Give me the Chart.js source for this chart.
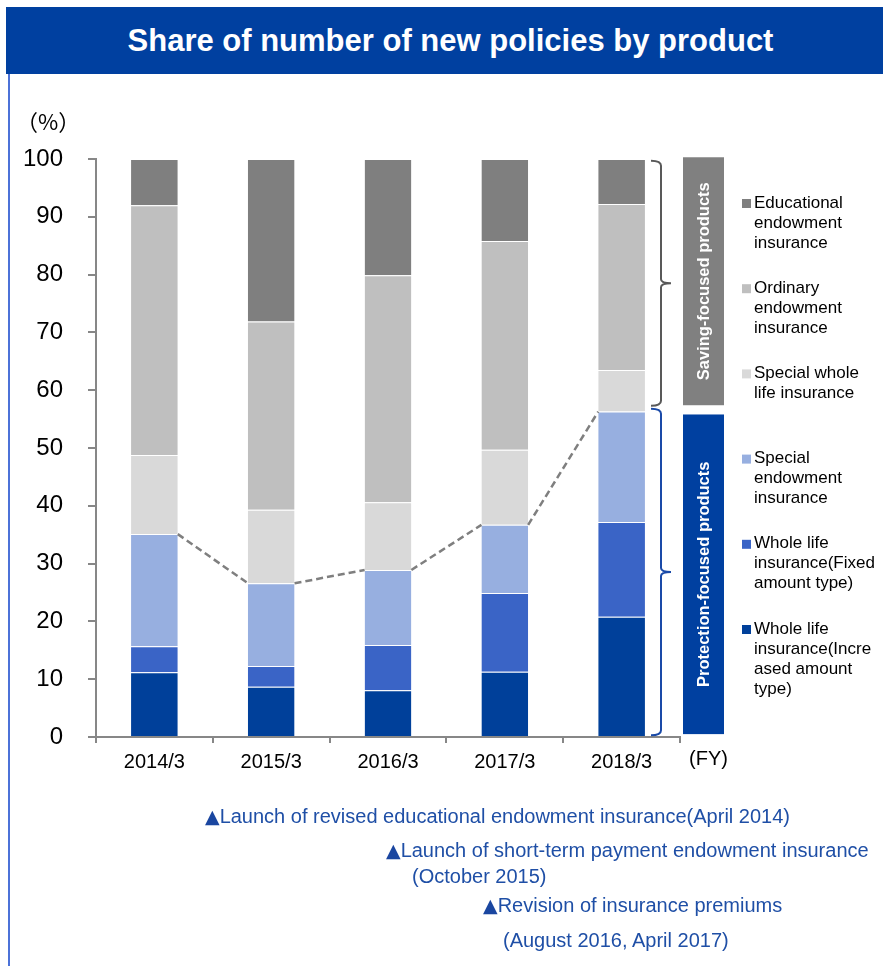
<!DOCTYPE html>
<html>
<head>
<meta charset="utf-8">
<script src="https://cdn.jsdelivr.net/npm/chart.js@4/dist/chart.umd.min.js"></script>
<style>
  html, body { margin: 0; padding: 0; background: #fff; }
  body { width: 883px; height: 966px; position: relative; overflow: hidden; font-family: "Liberation Sans", Arial, sans-serif; }
  #wrap { position: absolute; left: 0; top: 0; width: 883px; height: 966px; }
  .side { position: absolute; left: 8px; top: 7px; width: 2px; height: 959px; background: #4c72d8; }
  .head { position: absolute; left: 6px; top: 7px; width: 877px; height: 67px; background: #0040a0;
          color: #fff; font-weight: bold; font-size: 31px; line-height: 67px; text-align: center; padding-left: 12px; box-sizing: border-box; }
  .unit { position: absolute; left: 16px; top: 104px; font-size: 22px; font-family: "Noto Sans CJK JP", "Noto Sans CJK SC", sans-serif; color: #000; }
  .fy { position: absolute; left: 689px; top: 747px; font-size: 20px; color: #000; }
  .note { position: absolute; font-size: 20px; line-height: 20px; color: #1f4fa6; white-space: nowrap; }
  .note b { font-weight: normal; font-family: "DejaVu Sans", sans-serif; font-size: 19px; color: #1a46a0; }
</style>
</head>
<body>
<div id="wrap"><canvas id="myChart" width="883" height="966"></canvas></div>
<div class="side"></div>
<div class="head">Share of number of new policies by product</div>
<div class="unit">（%）</div>
<div class="fy">(FY)</div>
<div class="note" style="left:205px; top:806px;"><b>▲</b>Launch of revised educational endowment insurance(April 2014)</div>
<div class="note" style="left:386px; top:840px;"><b>▲</b>Launch of short-term payment endowment insurance</div>
<div class="note" style="left:412px; top:866px;">(October 2015)</div>
<div class="note" style="left:483px; top:895px;"><b>▲</b>Revision of insurance premiums</div>
<div class="note" style="left:503px; top:930px;">(August 2016, April 2017)</div>

<script>
  // fiscal years
  var years = ["2014/3", "2015/3", "2016/3", "2017/3", "2018/3"];

  // share of new policies (%), bottom of the stack first
  var wholeLifeIncreased = [11.2, 8.7, 8.1, 11.3, 20.8];
  var wholeLifeFixed     = [4.5, 3.6, 7.8, 13.6, 16.4];
  var specialEndowment   = [19.4, 14.3, 13.0, 11.8, 19.1];
  var specialWholeLife   = [13.7, 12.7, 11.7, 13.0, 7.2];
  var ordinaryEndowment  = [43.2, 32.6, 39.3, 36.1, 28.7];
  var educationalEndow   = [8.0, 28.1, 20.1, 14.2, 7.8];

  var yTicks = [0, 10, 20, 30, 40, 50, 60, 70, 80, 90, 100];

  // legend wording, one entry per line
  var legendIncreased = ["Whole life", "insurance(Incre", "ased amount", "type)"];
  var legendFixed     = ["Whole life", "insurance(Fixed", "amount type)"];
  var legendSpecEnd   = ["Special", "endowment", "insurance"];
  var legendSpecWhole = ["Special whole", "life insurance"];
  var legendOrdinary  = ["Ordinary", "endowment", "insurance"];
  var legendEduc      = ["Educational", "endowment", "insurance"];

  var groupNames = ["Saving-focused products", "Protection-focused products"];

  var FONT = '"Liberation Sans", Arial, sans-serif';

  function seg(label, data, color){
    return {
      label: label.join(" "),
      lines: label,
      data: data,
      backgroundColor: color,
      borderColor: "rgba(255,255,255,0.35)",
      borderWidth: {top: 1, left: 0, right: 0, bottom: 0},
      borderSkipped: "bottom",
      barPercentage: 0.4,
      categoryPercentage: 1.0
    };
  }

  // dashed line joining the top of the protection-focused part of each bar
  var seriesLine = {
    id: "seriesLine",
    afterDatasetsDraw: function(chart){
      var meta = chart.getDatasetMeta(2);
      var ctx = chart.ctx;
      ctx.save();
      ctx.strokeStyle = "#7f7f7f";
      ctx.lineWidth = 2.5;
      ctx.setLineDash([7, 4]);
      for (var i = 0; i < meta.data.length - 1; i++) {
        var a = meta.data[i], b = meta.data[i + 1];
        ctx.beginPath();
        ctx.moveTo(a.x + a.width / 2, a.y);
        ctx.lineTo(b.x - b.width / 2, b.y);
        ctx.stroke();
      }
      ctx.restore();
    }
  };

  // right-hand brackets, group boxes and the legend
  function brace(ctx, x, top, bottom, color){
    var mid = (top + bottom) / 2;
    ctx.strokeStyle = color;
    ctx.lineWidth = 2;
    ctx.beginPath();
    ctx.moveTo(x - 10, top);
    ctx.quadraticCurveTo(x, top, x, top + 5);
    ctx.lineTo(x, mid - 4);
    ctx.quadraticCurveTo(x, mid, x + 10, mid);
    ctx.quadraticCurveTo(x, mid, x, mid + 4);
    ctx.lineTo(x, bottom - 5);
    ctx.quadraticCurveTo(x, bottom, x - 10, bottom);
    ctx.stroke();
  }

  function groupBox(ctx, x, top, bottom, fill, text){
    ctx.fillStyle = fill;
    ctx.fillRect(x, top, 41, bottom - top);
    ctx.save();
    ctx.translate(x + 21, (top + bottom) / 2);
    ctx.rotate(-Math.PI / 2);
    ctx.fillStyle = "#fff";
    ctx.font = "bold 16.5px " + FONT;
    ctx.textAlign = "center";
    ctx.textBaseline = "middle";
    ctx.fillText(text, 0, 0);
    ctx.restore();
  }

  var sidePanel = {
    id: "sidePanel",
    afterDraw: function(chart){
      var ctx = chart.ctx;
      var y = chart.scales.y;
      ctx.save();
      brace(ctx, 661, y.getPixelForValue(99.7), y.getPixelForValue(57.3), "#595959");
      brace(ctx, 661, y.getPixelForValue(56.8), y.getPixelForValue(0.3), "#1a4aa8");
      groupBox(ctx, 683, y.getPixelForValue(100.3), y.getPixelForValue(57.4), "#808080", groupNames[0]);
      groupBox(ctx, 683, y.getPixelForValue(55.8), y.getPixelForValue(0.5), "#0040a0", groupNames[1]);

      // legend, top of the stack first
      var ds = chart.data.datasets.slice().reverse();
      ctx.font = "17px " + FONT;
      ctx.textBaseline = "middle";
      ctx.textAlign = "left";
      ds.forEach(function(d, i){
        var top = 203 + i * 85.2;
        ctx.fillStyle = d.backgroundColor;
        ctx.fillRect(742, top - 4, 9, 9);
        ctx.fillStyle = "#000";
        d.lines.forEach(function(t, k){
          ctx.fillText(t, 754, top + k * 20);
        });
      });
      ctx.restore();
    }
  };

  var ctx = document.getElementById("myChart").getContext("2d");
  var myChart = new Chart(ctx, {
    type: "bar",
    data: {
      labels: years,
      datasets: [
        seg(legendIncreased, wholeLifeIncreased, "#00409a"),
        seg(legendFixed, wholeLifeFixed, "#3a64c6"),
        seg(legendSpecEnd, specialEndowment, "#97afe0"),
        seg(legendSpecWhole, specialWholeLife, "#d9d9d9"),
        seg(legendOrdinary, ordinaryEndowment, "#bfbfbf"),
        seg(legendEduc, educationalEndow, "#7f7f7f")
      ]
    },
    options: {
      responsive: false,
      animation: false,
      layout: { padding: { left: 20, right: 203, top: 159, bottom: 189 } },
      plugins: {
        legend: { display: false },
        tooltip: { enabled: false }
      },
      scales: {
        x: {
          stacked: true,
          offset: true,
          grid: { display: true, drawOnChartArea: false, offset: true, tickLength: 6, color: "#878787", lineWidth: 2 },
          border: { color: "#878787", width: 2 },
          ticks: { color: "#000", font: { family: FONT, size: 20 }, padding: 7 },
          afterFit: function(s){ s.height = 40; }
        },
        y: {
          stacked: true,
          min: 0,
          max: 100,
          afterBuildTicks: function(s){ s.ticks = yTicks.map(function(v){ return {value: v}; }); },
          grid: { display: true, drawOnChartArea: false, tickLength: 8, color: "#878787", lineWidth: 2 },
          border: { color: "#878787", width: 2 },
          ticks: { color: "#000", font: { family: FONT, size: 24 }, padding: 25 },
          afterFit: function(s){ s.width = 76; }
        }
      }
    },
    plugins: [seriesLine, sidePanel]
  });
</script>
</body>
</html>
